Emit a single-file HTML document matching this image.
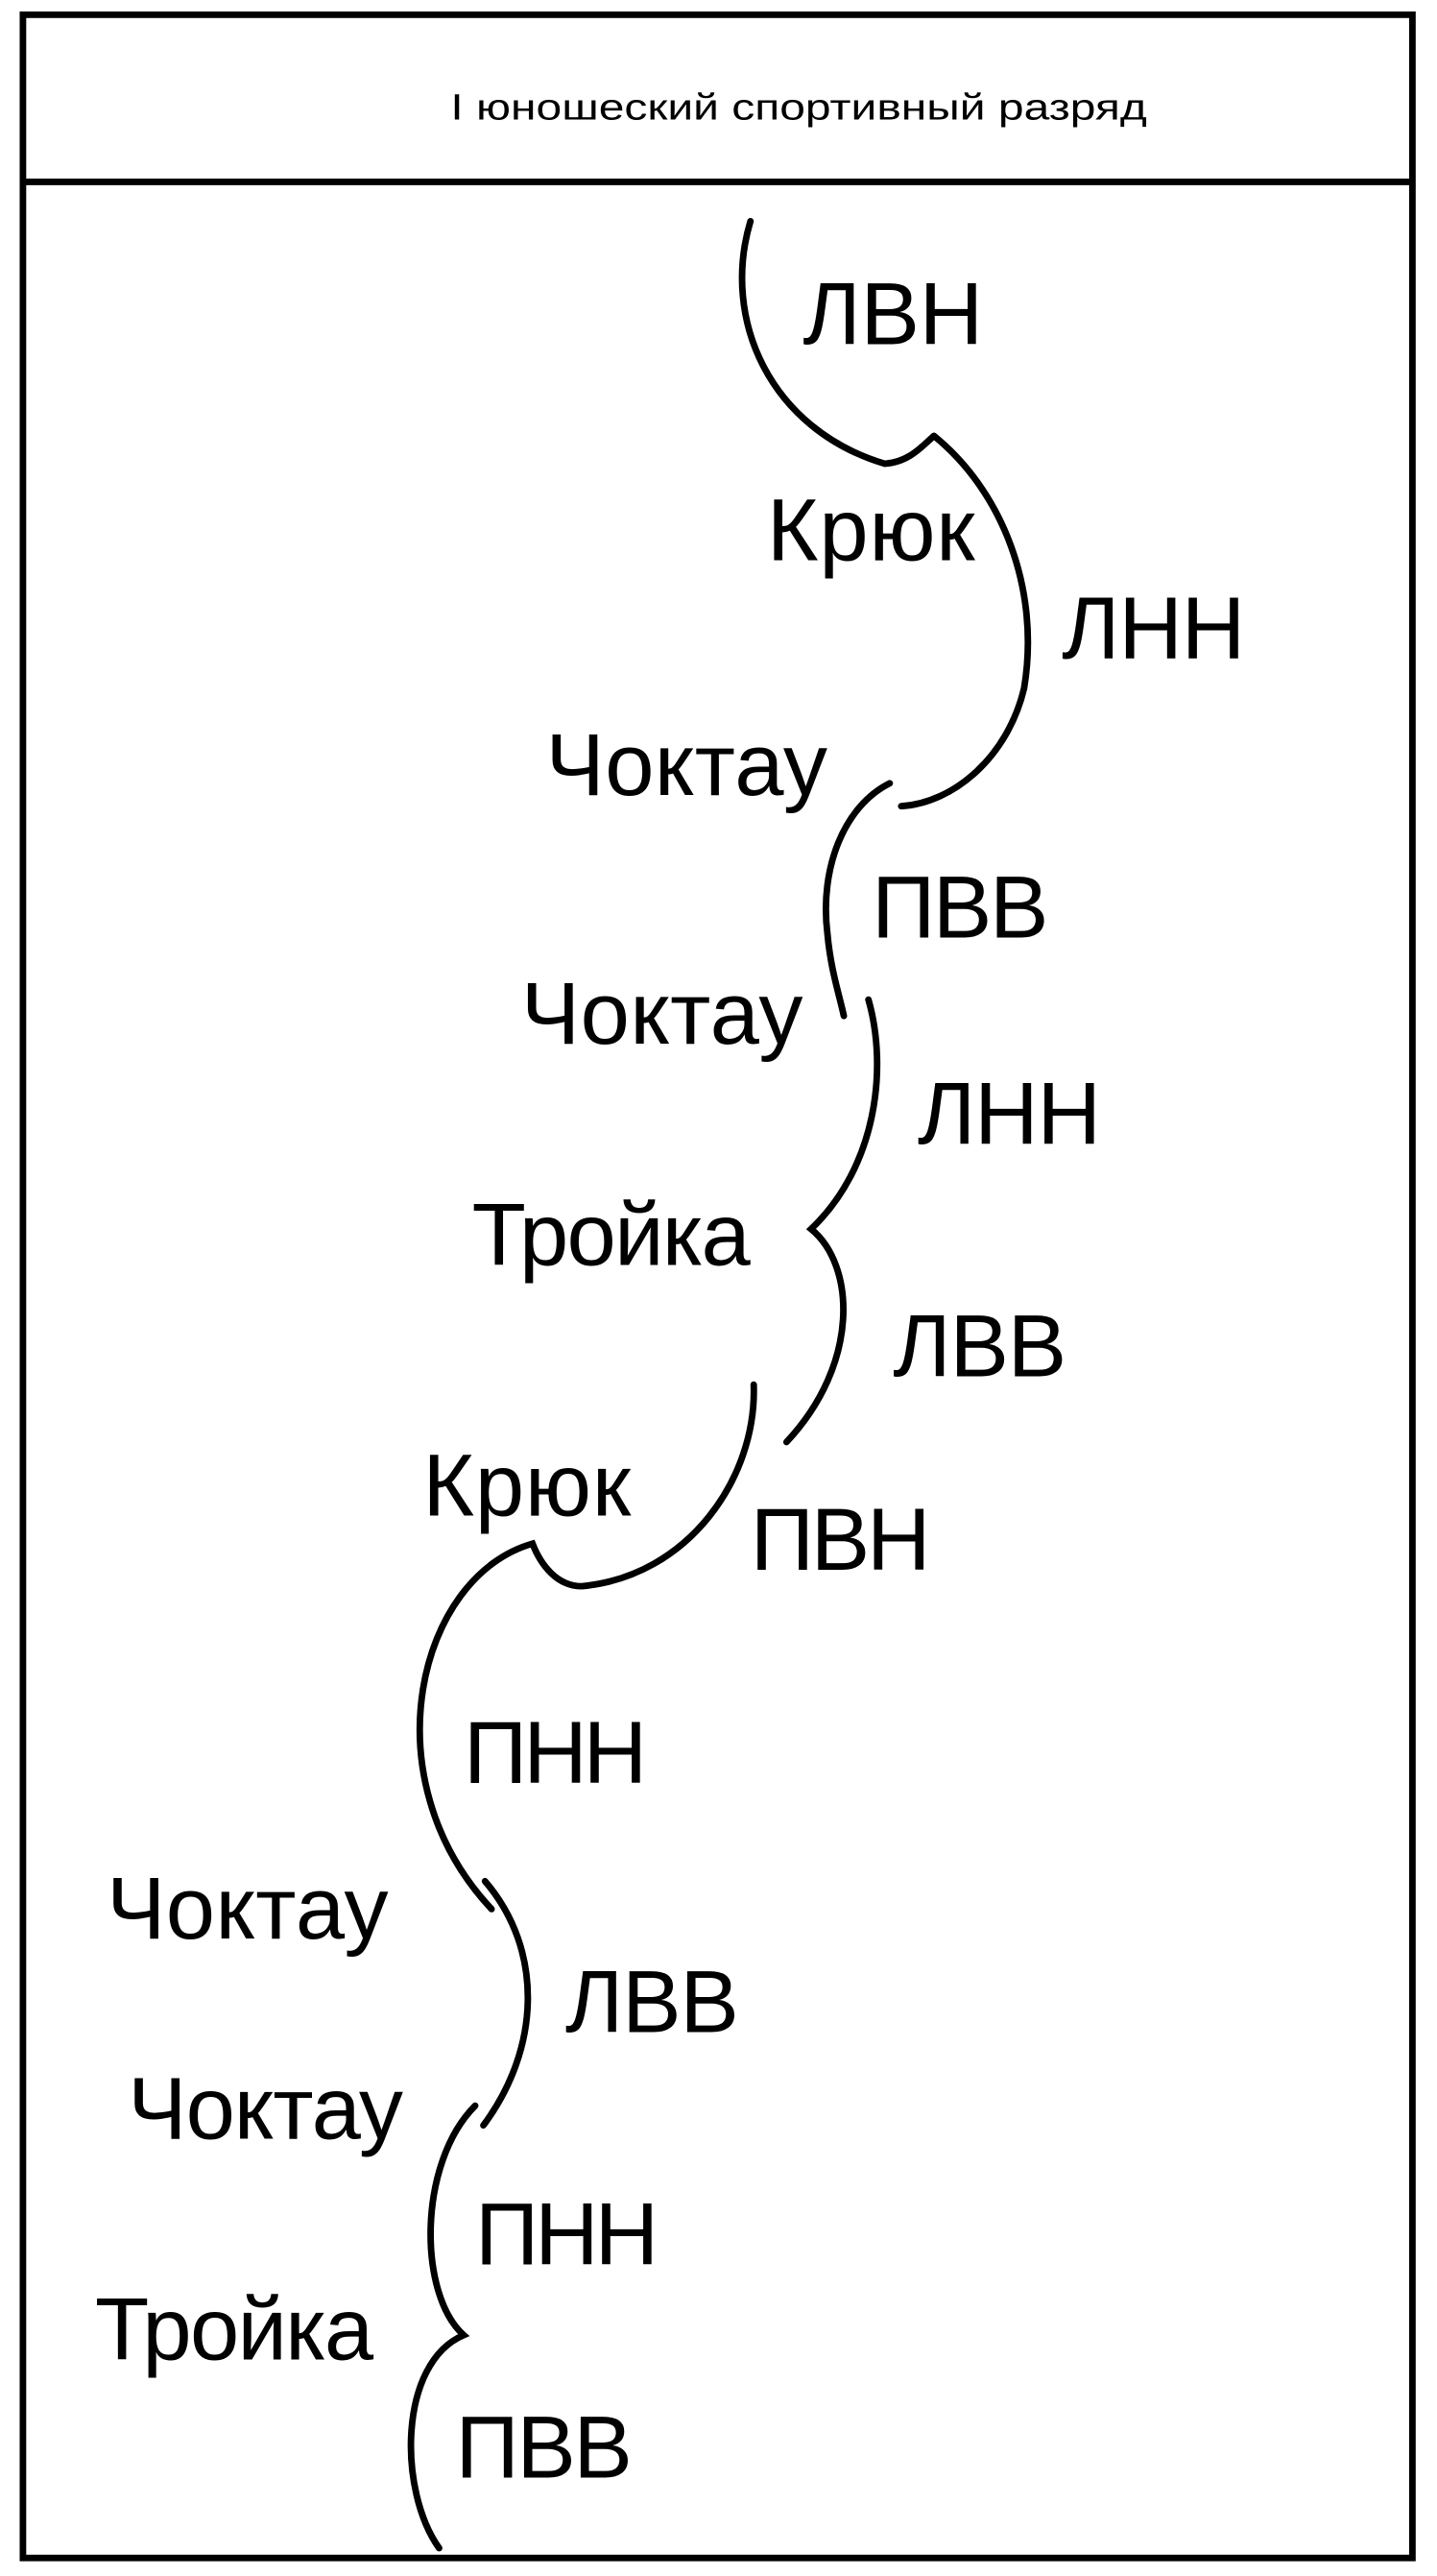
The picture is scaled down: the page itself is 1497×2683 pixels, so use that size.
<!DOCTYPE html>
<html><head><meta charset="utf-8"><style>html,body{margin:0;padding:0;background:#fff}svg{display:block}</style></head>
<body>
<svg width="1497" height="2683" viewBox="0 0 877 1572" preserveAspectRatio="none" xmlns="http://www.w3.org/2000/svg">
<rect x="0" y="0" width="877" height="1572" fill="#fff"/>
<rect x="14" y="9" width="848" height="1552" fill="none" stroke="#000" stroke-width="4"/>
<line x1="14" y1="111" x2="862" y2="111" stroke="#000" stroke-width="4"/>
<text x="275" y="73" font-family="Liberation Sans, sans-serif" font-size="22" textLength="425" lengthAdjust="spacingAndGlyphs">I юношеский спортивный разряд</text>
<g fill="none" stroke="#000" stroke-width="4" stroke-linecap="round">
<path d="M458,135 C440,195 470,262 540,283 C555,282 563,272 570,266"/>
<path d="M570,266 C612,300 635,360 625,420 C615,462 582,490 550,492"/>
<path d="M543,478 C515,492 500,530 505,570 C507,592 512,606 515,620"/>
<path d="M530,610 C542,652 535,712 495,750 C522,772 525,832 480,880"/>
<path d="M460,845 C462,902 420,962 355,968 C340,968 330,955 325,942 C255,962 225,1085 300,1165"/>
<path d="M296,1148 C332,1190 330,1250 295,1297"/>
<path d="M290,1285 C255,1320 255,1400 283,1425 C243,1442 243,1520 268,1555"/>
</g>
<g font-family="Liberation Sans, sans-serif" font-size="54" fill="#000" lengthAdjust="spacingAndGlyphs">
<text x="490" y="210" textLength="110">ЛВН</text>
<text x="468" y="342" textLength="127">Крюк</text>
<text x="648" y="402" textLength="112">ЛНН</text>
<text x="333" y="485" textLength="172">Чоктау</text>
<text x="532" y="572" textLength="108">ПВВ</text>
<text x="318" y="637" textLength="172">Чоктау</text>
<text x="560" y="698" textLength="112">ЛНН</text>
<text x="288" y="772" textLength="170">Тройка</text>
<text x="545" y="840" textLength="106">ЛВВ</text>
<text x="258" y="925" textLength="127">Крюк</text>
<text x="458" y="958" textLength="110">ПВН</text>
<text x="283" y="1088" textLength="112">ПНН</text>
<text x="65" y="1183" textLength="172">Чоктау</text>
<text x="345" y="1240" textLength="106">ЛВВ</text>
<text x="78" y="1305" textLength="168">Чоктау</text>
<text x="290" y="1382" textLength="112">ПНН</text>
<text x="58" y="1440" textLength="170">Тройка</text>
<text x="278" y="1512" textLength="108">ПВВ</text>
</g>
</svg>
</body></html>
